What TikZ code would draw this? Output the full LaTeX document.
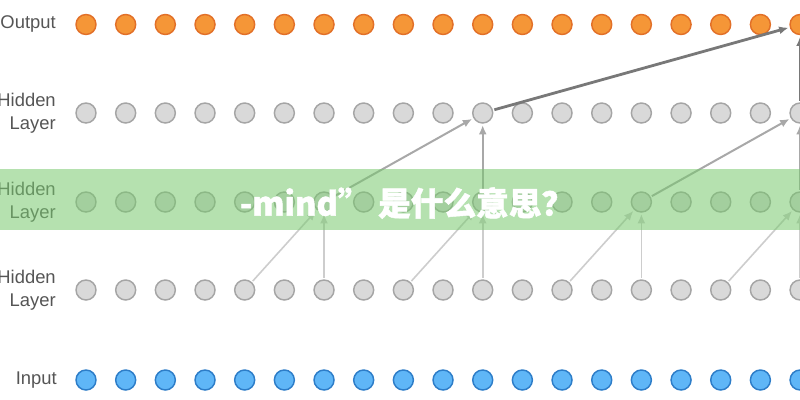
\documentclass[tikz,border=0pt]{standalone}
\usepackage{fontspec}
\setmainfont{Liberation Sans}
\newfontfamily\cjkfont{Noto Sans CJK SC}[BoldFeatures={FakeBold=1.4}]
\usetikzlibrary{arrows.meta}
\definecolor{orfill}{RGB}{245,150,55}
\definecolor{ordraw}{RGB}{226,112,40}
\definecolor{gyfill}{RGB}{217,217,217}
\definecolor{gydraw}{RGB}{165,165,165}
\definecolor{blfill}{RGB}{95,182,247}
\definecolor{bldraw}{RGB}{45,125,200}
\definecolor{bandcol}{RGB}{120,200,110}
\definecolor{lblcol}{RGB}{85,85,85}
\definecolor{lightln}{RGB}{205,205,205}
\definecolor{midln}{RGB}{168,168,168}
\definecolor{darkln}{RGB}{120,120,120}
\tikzset{
  neuron/.style={circle,minimum size=15pt,inner sep=0pt,line width=1.1pt},
  outn/.style={neuron,fill=orfill,draw=ordraw},
  hidn/.style={neuron,fill=gyfill,draw=gydraw},
  inn/.style={neuron,fill=blfill,draw=bldraw},
  lbl/.style={anchor=east,align=right,text=lblcol,font=\fontsize{13.8pt}{17.25pt}\selectfont,inner sep=0pt},
  conn/.style={-{Latex[length=7pt,width=6pt]},shorten <=1pt,shorten >=1pt},
  lightc/.style={conn,draw=lightln,line width=1.2pt},
  midc/.style={conn,draw=midln,line width=1.5pt},
  darkc/.style={conn,draw=darkln,line width=2.1pt},
}
\begin{document}
\begin{tikzpicture}[x=0.75pt,y=-0.75pt]
\useasboundingbox (0,0) rectangle (800,400);
\foreach \k in {0,...,18}{
  \pgfmathsetmacro{\xx}{86+39.67*\k}
  \node[outn] (o\k) at (\xx,24.5) {};
  \node[hidn] (a\k) at (\xx,113) {};
  \node[hidn] (b\k) at (\xx,202) {};
  \node[hidn] (c\k) at (\xx,290) {};
  \node[inn] (i\k) at (\xx,380) {};
}
% hidden 3 -> hidden 2
\draw[lightc] (c4) -- (b6);
\draw[lightc] (c6) -- (b6);
\draw[lightc] (c8) -- (b10);
\draw[lightc] (c10) -- (b10);
\draw[lightc] (c12) -- (b14);
\draw[lightc] (c14) -- (b14);
\draw[lightc] (c16) -- (b18);
\draw[lightc] (c18) -- (b18);
% hidden 2 -> hidden 1
\draw[midc] (b6) -- (a10);
\draw[midc] (b10) -- (a10);
\draw[midc] (b14) -- (a18);
\draw[midc] (b18) -- (a18);
% hidden 1 -> output
\draw[darkc] (a10) -- (o18);
\draw[darkc] (a18) -- (o18);
% labels
\node[lbl] (lo) at (56,24) {Output};
\node[lbl] (l1) at (56,113) {Hidden\\Layer};
\node[lbl] (l2) at (56,202) {Hidden\\Layer};
\node[lbl] (l3) at (56,290) {Hidden\\Layer};
\node[lbl] (li) at (57,380) {Input};
% band
\fill[bandcol,opacity=0.55] (0,169) rectangle (800,230);
\node[text=white,font=\cjkfont\bfseries\fontsize{24.5pt}{28pt}\selectfont,inner sep=0pt] (cap) at (407,203) {-mind” 是什么意思？};
\end{tikzpicture}
\end{document}
